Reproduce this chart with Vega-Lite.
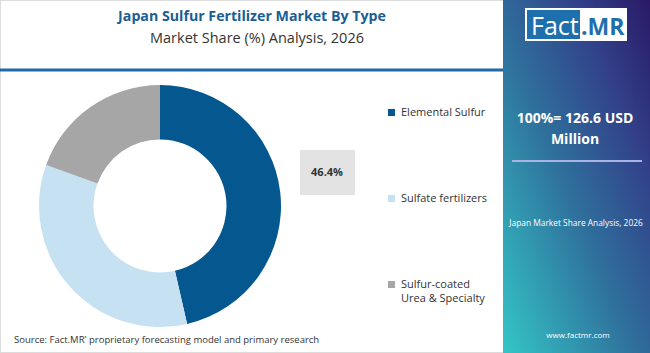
{
  "$schema": "https://vega.github.io/schema/vega-lite/v6.json",
  "width": 650,
  "height": 353,
  "padding": 0,
  "autosize": {"type": "none"},
  "background": "white",
  "config": {"view": {"stroke": null}, "font": "Open Sans", "style": {"guide-label": {"lineHeight": 14}}},
  "datasets": {
    "shares": [
      {"type": "Elemental Sulfur", "share": 0.464},
      {"type": "Sulfate fertilizers", "share": 0.341},
      {"type": "Sulfur-coated Urea & Specialty", "share": 0.195}
    ],
    "one": [{}]
  },
  "layer": [
    {
      "data": {"name": "one"},
      "mark": {"type": "rect", "fill": "white", "stroke": "#dcdcdc", "strokeWidth": 2},
      "encoding": {"x": {"value": 0}, "x2": {"value": 650}, "y": {"value": 0}, "y2": {"value": 353}}
    },
    {
      "data": {"name": "one"},
      "mark": {"type": "rule", "stroke": "#1e6aa6", "strokeWidth": 3},
      "encoding": {"x": {"value": 0}, "x2": {"value": 503}, "y": {"value": 70}}
    },
    {
      "data": {"name": "one"},
      "mark": {"type": "text", "text": "Japan Sulfur Fertilizer Market By Type", "fontWeight": "bold", "fontSize": 14.2, "fill": "#1a5e94", "align": "center", "baseline": "alphabetic"},
      "encoding": {"x": {"value": 252}, "y": {"value": 21}}
    },
    {
      "data": {"name": "one"},
      "mark": {"type": "text", "text": "Market Share (%) Analysis, 2026", "fontSize": 14.5, "fill": "#333333", "align": "center", "baseline": "alphabetic"},
      "encoding": {"x": {"value": 257}, "y": {"value": 43}}
    },
    {
      "data": {"name": "shares"},
      "mark": {"type": "arc", "innerRadius": 66.5, "outerRadius": 121},
      "encoding": {
        "x": {"value": 160},
        "y": {"value": 206},
        "theta": {"field": "share", "type": "quantitative", "stack": true},
        "order": {"field": "share", "type": "quantitative", "sort": "descending"},
        "color": {
          "field": "type",
          "type": "nominal",
          "scale": {
            "domain": ["Elemental Sulfur", "Sulfate fertilizers", "Sulfur-coated Urea & Specialty"],
            "range": ["#04578f", "#c6e1f2", "#a6a6a6"]
          },
          "legend": {
            "orient": "none",
            "legendX": 386,
            "legendY": 107,
            "title": null,
            "padding": 0,
            "symbolType": "square",
            "symbolSize": 50,
            "symbolStrokeWidth": 0,
            "labelFontSize": 11,
            "labelColor": "#333333",
            "labelOffset": 4,
            "labelLimit": 200,
            "rowPadding": 74,
            "labelExpr": "datum.label == 'Sulfur-coated Urea & Specialty' ? ['Sulfur-coated', 'Urea & Specialty'] : datum.label"
          }
        }
      }
    },
    {
      "data": {"name": "one"},
      "mark": {"type": "rect", "fill": "#e3e3e3"},
      "encoding": {"x": {"value": 300}, "x2": {"value": 355}, "y": {"value": 150}, "y2": {"value": 195}}
    },
    {
      "data": {"name": "shares"},
      "transform": [{"filter": "datum.type == 'Elemental Sulfur'"}],
      "mark": {"type": "text", "fontWeight": "bold", "fontSize": 11, "fill": "#333333", "align": "center", "baseline": "middle"},
      "encoding": {"x": {"value": 327}, "y": {"value": 173}, "text": {"field": "share", "type": "quantitative", "format": ".1%"}}
    },
    {
      "data": {"name": "one"},
      "mark": {"type": "text", "text": "Source: Fact.MR' proprietary forecasting model and primary research", "fontSize": 9.5, "fill": "#333333", "align": "left", "baseline": "alphabetic"},
      "encoding": {"x": {"value": 14}, "y": {"value": 343}}
    },
    {
      "data": {"name": "one"},
      "mark": {
        "type": "rect",
        "color": {
          "gradient": "linear", "x1": 0, "y1": 1, "x2": 1, "y2": 0,
          "stops": [
            {"offset": 0, "color": "#34c6c6"},
            {"offset": 0.45, "color": "#2f709c"},
            {"offset": 0.75, "color": "#32418a"},
            {"offset": 1, "color": "#2a1966"}
          ]
        }
      },
      "encoding": {"x": {"value": 503}, "x2": {"value": 650}, "y": {"value": 0}, "y2": {"value": 353}}
    },
    {
      "data": {"name": "one"},
      "mark": {"type": "rect", "fill": "white"},
      "encoding": {"x": {"value": 525}, "x2": {"value": 627}, "y": {"value": 8}, "y2": {"value": 41}}
    },
    {
      "data": {"name": "one"},
      "mark": {"type": "rect", "fill": "#1d70ad"},
      "encoding": {"x": {"value": 527}, "x2": {"value": 580}, "y": {"value": 10}, "y2": {"value": 39}}
    },
    {
      "data": {"name": "one"},
      "mark": {"type": "text", "text": "Fact", "fontSize": 25, "fill": "white", "align": "left", "baseline": "alphabetic"},
      "encoding": {"x": {"value": 531}, "y": {"value": 35}}
    },
    {
      "data": {"name": "one"},
      "mark": {"type": "text", "text": ".MR", "fontSize": 23, "fontWeight": "bold", "fill": "#1d70ad", "align": "left", "baseline": "alphabetic"},
      "encoding": {"x": {"value": 581}, "y": {"value": 35}}
    },
    {
      "data": {"name": "one"},
      "mark": {"type": "text", "text": "100%= 126.6 USD", "fontSize": 14, "fontWeight": "bold", "fill": "white", "align": "center", "baseline": "alphabetic"},
      "encoding": {"x": {"value": 575}, "y": {"value": 123}}
    },
    {
      "data": {"name": "one"},
      "mark": {"type": "text", "text": "Million", "fontSize": 14, "fontWeight": "bold", "fill": "white", "align": "center", "baseline": "alphabetic"},
      "encoding": {"x": {"value": 575}, "y": {"value": 144}}
    },
    {
      "data": {"name": "one"},
      "mark": {"type": "rule", "stroke": "#aab4e4", "strokeWidth": 2},
      "encoding": {"x": {"value": 512}, "x2": {"value": 642}, "y": {"value": 161}}
    },
    {
      "data": {"name": "one"},
      "mark": {"type": "text", "text": "Japan Market Share Analysis, 2026", "fontSize": 8.4, "fill": "white", "align": "center", "baseline": "alphabetic"},
      "encoding": {"x": {"value": 576}, "y": {"value": 226}}
    },
    {
      "data": {"name": "one"},
      "mark": {"type": "text", "text": "www.factmr.com", "fontSize": 8, "fill": "white", "align": "center", "baseline": "alphabetic"},
      "encoding": {"x": {"value": 578}, "y": {"value": 338}}
    }
  ]
}
